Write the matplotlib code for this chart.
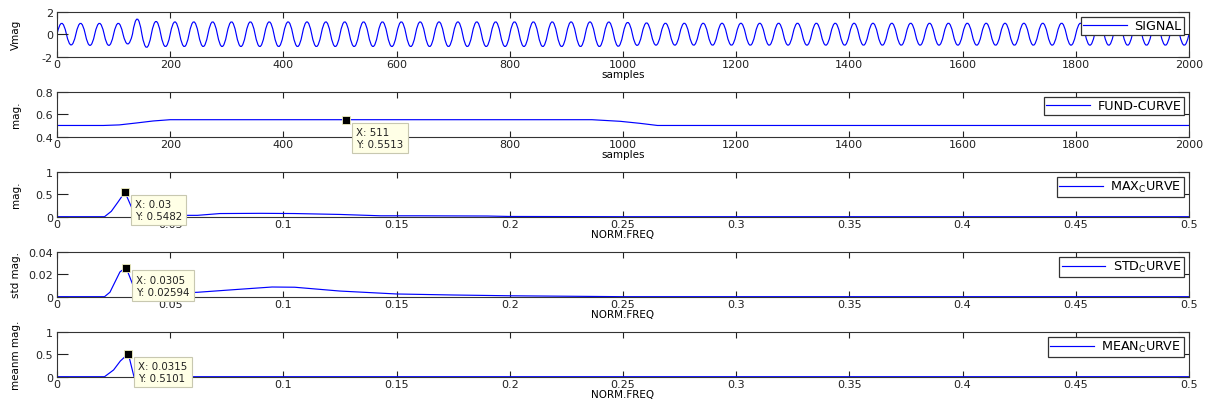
import numpy as np
import matplotlib
matplotlib.use("Agg")
import matplotlib.pyplot as plt
from matplotlib.path import Path
from matplotlib.patches import PathPatch
from matplotlib.lines import Line2D

# ---- data ----
SIG_LEN = 2000
SIG_CYCLES = 60
# peak / trough value of every cycle of the top signal
SIG_PEAKS = [0.97, 0.97, 0.97, 0.97, 1.35, 1.14, 1.10, 1.10, 1.10, 1.10,
             1.10, 1.10, 1.10, 1.10, 1.10, 1.10, 1.10, 1.10, 1.10, 1.10,
             1.10, 1.10, 1.10, 1.10, 1.10, 1.10, 1.10, 1.10, 1.10, 1.09,
             1.05, 1.01, 0.98, 0.98, 0.98, 0.98, 0.98, 0.98, 0.98, 0.98,
             0.98, 0.98, 0.98, 0.98, 0.98, 0.98, 0.98, 0.98, 0.98, 0.98,
             0.98, 0.98, 0.98, 0.98, 0.98, 0.98, 0.98, 0.98, 0.98, 0.98]
SIG_TROUGHS = [-0.96, -1.00, -1.00, -0.87, -1.17, -1.10, -1.10, -1.10, -1.10, -1.10,
               -1.10, -1.10, -1.10, -1.10, -1.10, -1.10, -1.10, -1.10, -1.10, -1.10,
               -1.10, -1.10, -1.10, -1.10, -1.10, -1.10, -1.10, -1.10, -1.10, -1.08,
               -1.00, -0.98, -0.98, -0.98, -0.98, -0.98, -0.98, -0.98, -0.98, -0.98,
               -0.98, -0.98, -0.98, -0.98, -0.98, -0.98, -0.98, -0.98, -0.98, -0.98,
               -0.98, -0.98, -0.98, -0.98, -0.98, -0.98, -0.98, -0.98, -0.98, -0.98]

FUND_X = [0, 82, 110, 140, 170, 200, 511, 945, 995, 1030, 1061, 2000]
FUND_Y = [0.5, 0.5, 0.505, 0.522, 0.54, 0.5513, 0.5513, 0.5513, 0.537, 0.519, 0.5, 0.5]

MAX_F = [0, 0.021, 0.024, 0.027, 0.030, 0.033, 0.036, 0.05, 0.062, 0.072, 0.09,
         0.105, 0.125, 0.143, 0.16, 0.19, 0.2, 0.25, 0.5]
MAX_V = [0, 0, 0.12, 0.33, 0.5482, 0.2, 0.03, 0.03, 0.03, 0.07, 0.075,
         0.07, 0.05, 0.02, 0.02, 0.015, 0.005, 0, 0]

STD_F = [0, 0.021, 0.0234, 0.0256, 0.0278, 0.0305, 0.034, 0.04, 0.05, 0.062, 0.08,
         0.095, 0.105, 0.125, 0.15, 0.175, 0.2, 0.25, 0.5]
STD_V = [0, 0, 0.004, 0.013, 0.022, 0.02594, 0.008, 0.003, 0.003, 0.0039, 0.0065,
         0.0086, 0.0084, 0.005, 0.0024, 0.0015, 0.0008, 0, 0]

MEAN_F = [0, 0.021, 0.025, 0.028, 0.0315, 0.034, 0.5]
MEAN_V = [0, 0, 0.15, 0.35, 0.5101, 0, 0]

SAMPLE_TICKS = [0, 200, 400, 600, 800, 1000, 1200, 1400, 1600, 1800, 2000]
FREQ_TICKS = [0, 0.05, 0.1, 0.15, 0.2, 0.25, 0.3, 0.35, 0.4, 0.45, 0.5]
FREQ_LABELS = ["0", "0.05", "0.1", "0.15", "0.2", "0.25", "0.3", "0.35", "0.4", "0.45", "0.5"]

YTICKS = [[-2, 0, 2], [0.4, 0.6, 0.8], [0, 0.5, 1], [0, 0.02, 0.04], [0, 0.5, 1]]
YLABELS = ["Vmag", "mag.", "mag.", "std mag.", "meanm mag."]
LEGENDS = ["SIGNAL", "FUND-CURVE", "MAX$_\\mathregular{C}$URVE",
           "STD$_\\mathregular{C}$URVE", "MEAN$_\\mathregular{C}$URVE"]

# data tips: panel, x, y, text
TIPS = [(1, 511, 0.5513, "X: 511\nY: 0.5513"),
        (2, 0.03, 0.5482, "X: 0.03\nY: 0.5482"),
        (3, 0.0305, 0.02594, "X: 0.0305\nY: 0.02594"),
        (4, 0.0315, 0.5101, "X: 0.0315\nY: 0.5101")]

plt.rcParams['font.family'] = ['DejaVu Sans']
LINE = '#0000ff'

fig = plt.figure(figsize=(12.05, 4.06), dpi=100)
bottoms = [0.8579, 0.6608, 0.4638, 0.2668, 0.0697]
axes = [fig.add_axes([0.0473, b, 0.9394, 0.1108]) for b in bottoms]

# signal drawn as half waves through the read extrema
half = SIG_LEN / SIG_CYCLES / 2
verts = [(0, 0)]
codes = [Path.MOVETO]
for i in range(2 * SIG_CYCLES):
    ext = SIG_PEAKS[i // 2] if i % 2 == 0 else SIG_TROUGHS[i // 2]
    verts += [((i + 0.5) * half, 2 * ext), ((i + 1) * half, 0)]
    codes += [Path.CURVE3, Path.CURVE3]
axes[0].add_patch(PathPatch(Path(verts, codes), fill=False, edgecolor=LINE, lw=0.85))

axes[1].plot(FUND_X, FUND_Y, color=LINE, lw=0.85)
axes[2].plot(MAX_F, MAX_V, color=LINE, lw=0.85)
axes[3].plot(STD_F, STD_V, color=LINE, lw=0.85)
axes[4].plot(MEAN_F, MEAN_V, color=LINE, lw=0.85)

for i, ax in enumerate(axes):
    if i < 2:
        ax.set_xlim(0, 2000)
        ax.set_xticks(SAMPLE_TICKS)
        ax.set_xlabel("samples", fontsize=7.5, labelpad=0.5)
    else:
        ax.set_xlim(0, 0.5)
        ax.set_xticks(FREQ_TICKS)
        ax.set_xticklabels(FREQ_LABELS)
        ax.set_xlabel("NORM.FREQ", fontsize=7.5, labelpad=0.5)
    yt = YTICKS[i]
    ax.set_ylim(yt[0], yt[-1])
    ax.set_yticks(yt)
    ax.set_yticklabels(["%g" % v for v in yt])
    ax.set_ylabel(YLABELS[i], fontsize=7.5)
    ax.yaxis.set_label_coords(-0.032, 0.5)
    ax.tick_params(axis='x', direction='in', top=True, length=4.5, width=0.8,
                   labelsize=8, pad=1.5, colors='#222222')
    ax.tick_params(axis='y', direction='in', right=True, length=8, width=0.8,
                   labelsize=8, pad=3, colors='#222222')
    for s in ax.spines.values():
        s.set_color('#333333')
        s.set_linewidth(0.8)
    leg = ax.legend([Line2D([], [], color=LINE, lw=0.85)], [LEGENDS[i]],
                    loc='upper right', fontsize=9.2, fancybox=False,
                    edgecolor='#333333', framealpha=1, borderpad=0.2,
                    handlelength=3.4, handletextpad=0.6, borderaxespad=0.4)
    leg.get_frame().set_linewidth(0.9)

for p, x, y, txt in TIPS:
    ax = axes[p]
    ax.plot([x], [y], marker='s', ms=5.5, mfc='black', mec='#f0f0c0', mew=0.6,
            zorder=6, clip_on=False)
    ax.annotate(txt, xy=(x, y), xytext=(10, -7), textcoords='offset pixels',
                ha='left', va='top', fontsize=7.4, color='#222222', zorder=7,
                annotation_clip=False, linespacing=1.25,
                bbox=dict(boxstyle='square,pad=0.4', fc='#ffffe6', ec='#c8c8b0', lw=0.8))

fig.savefig("out.png", dpi=100)
